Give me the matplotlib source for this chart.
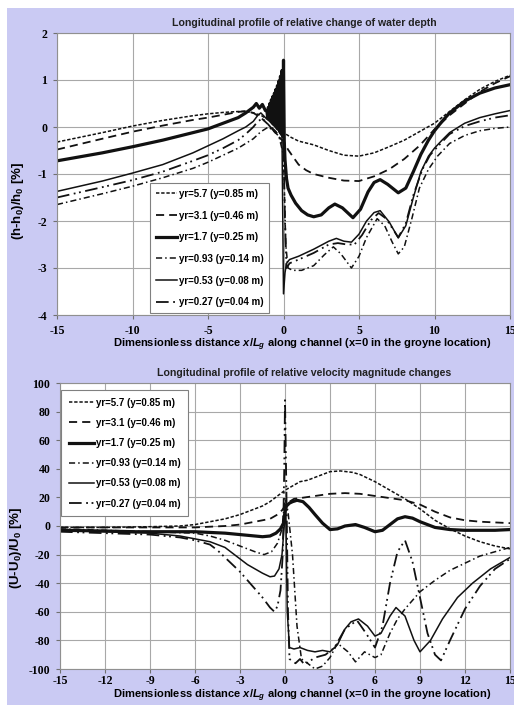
import matplotlib
matplotlib.use("Agg")
import matplotlib.pyplot as plt
from matplotlib.patches import Rectangle

plt.rcParams['font.family'] = ['Liberation Sans', 'DejaVu Sans']
plt.rcParams['mathtext.fontset'] = 'custom'
plt.rcParams['mathtext.rm'] = 'Liberation Sans:bold'
plt.rcParams['mathtext.it'] = 'Liberation Sans:bold:italic'

labels = ['yr=5.7 (y=0.85 m)', 'yr=3.1 (y=0.46 m)', 'yr=1.7 (y=0.25 m)',
          'yr=0.93 (y=0.14 m)', 'yr=0.53 (y=0.08 m)', 'yr=0.27 (y=0.04 m)']

## water depth panel
h57_x = [-15, -12, -10, -8, -6, -5, -4, -3, -2.5, -2, -1.5, -1, -0.5, -0.2, 0, 0.5, 1, 1.5, 2, 3, 4, 5, 6, 7, 8, 9, 10, 11, 12, 13, 14, 15]
h57_y = [-0.32, -0.12, 0.02, 0.14, 0.24, 0.28, 0.31, 0.33, 0.33, 0.3, 0.25, 0.15, 0.05, -0.05, -0.12, -0.22, -0.3, -0.34, -0.38, -0.5, -0.6, -0.62, -0.55, -0.42, -0.28, -0.1, 0.08, 0.33, 0.58, 0.8, 0.97, 1.1]

h31_x = [-15, -12, -10, -8, -6, -5, -4, -3, -2.5, -2, -1.5, -1, -0.5, -0.2, 0, 0.3, 0.6, 1, 1.5, 2, 3, 4, 5, 6, 7, 8, 9, 10, 11, 12, 13, 14, 15]
h31_y = [-0.48, -0.25, -0.1, 0.03, 0.15, 0.2, 0.26, 0.32, 0.34, 0.3, 0.2, 0.05, -0.1, -0.25, -0.3, -0.48, -0.62, -0.8, -0.92, -1.0, -1.08, -1.14, -1.15, -1.05, -0.9, -0.68, -0.4, -0.05, 0.25, 0.5, 0.75, 0.93, 1.08]

h17_x = [-15, -12, -10, -8, -6, -5, -4, -3, -2.5, -2, -1.8, -1.6, -1.4, -1.2,
         -1.1, -1.05, -1.0, -0.95, -0.9, -0.85, -0.8, -0.75, -0.7, -0.65, -0.6, -0.55,
         -0.5, -0.45, -0.4, -0.35, -0.3, -0.25, -0.2, -0.15, -0.1, -0.05, 0.0,
         0.05, 0.1, 0.2, 0.3, 0.5, 0.8, 1.2, 1.6, 2.0, 2.5, 3.0, 3.4, 3.9, 4.6, 5.1, 5.6,
         6.0, 6.4, 6.9, 7.6, 8.1, 8.6, 9.1, 9.6, 10, 10.5, 11, 12, 13, 14, 15]
h17_y = [-0.72, -0.55, -0.42, -0.28, -0.12, -0.04, 0.08, 0.2, 0.3, 0.42, 0.5, 0.4, 0.48, 0.35,
         0.35, 0.2, 0.42, 0.15, 0.5, 0.12, 0.58, 0.08, 0.65, 0.05, 0.72, 0.02,
         0.8, -0.02, 0.88, -0.05, 0.98, -0.1, 1.08, -0.15, 1.2, -0.2, 1.42,
         -0.3, -0.7, -1.1, -1.3, -1.45, -1.62, -1.78, -1.87, -1.91, -1.87, -1.72, -1.64, -1.72, -1.93, -1.75, -1.38,
         -1.18, -1.12, -1.22, -1.4, -1.3, -0.95, -0.58, -0.28, -0.08, 0.12, 0.3, 0.55, 0.72, 0.83, 0.9]

h093_x = [-15, -12, -10, -8, -6, -5, -4, -3, -2.5, -2, -1.5, -1.0, -0.6, -0.3, 0.0, 0.15, 0.3, 0.6, 1.2, 2.0, 2.7, 3.3, 3.8, 4.5, 5.0, 5.5, 6.2, 6.7, 7.2, 7.6, 8.0, 8.5, 9.0, 9.6, 10.2, 11, 12, 13, 14, 15]
h093_y = [-1.65, -1.42, -1.26, -1.08, -0.88, -0.75, -0.6, -0.45, -0.35, -0.25, -0.1, 0.0, -0.1, -0.2, -0.6, -2.5, -3.0, -3.05, -3.05, -2.95, -2.72, -2.55, -2.7, -3.0, -2.75, -2.35, -1.95, -2.1, -2.45, -2.7, -2.55, -1.95, -1.3, -0.9, -0.62, -0.35, -0.18, -0.08, -0.03, 0.0]

h053_x = [-15, -12, -10, -8, -6, -5, -4, -3, -2.5, -2, -1.7, -1.5, -1.2, -0.8, -0.4, -0.1, 0.0, 0.1, 0.2, 0.4, 1.0, 2.0, 3.0, 3.5, 4.0, 4.5, 5.0, 5.5, 6.0, 6.4, 7.0, 7.6, 8.1, 8.6, 9.1, 9.6, 10, 10.5, 11, 12, 13, 14, 15]
h053_y = [-1.37, -1.15, -0.98, -0.8, -0.55, -0.4, -0.25, -0.08, 0.0, 0.12, 0.25, 0.3, 0.2, 0.1, 0.0, -0.2, -3.55, -3.1, -2.9, -2.82, -2.75, -2.6, -2.43, -2.37, -2.43, -2.45, -2.28, -2.0, -1.82, -1.78, -2.02, -2.36, -2.1, -1.5, -0.95, -0.62, -0.45, -0.28, -0.12, 0.08, 0.2, 0.28, 0.35]

h027_x = [-15, -12, -10, -8, -6, -5, -4, -3, -2.5, -2, -1.7, -1.4, -1.0, -0.6, -0.2, 0.0, 0.1, 0.2, 0.4, 1.0, 2.0, 3.0, 3.6, 4.2, 4.7, 5.2, 5.8, 6.3, 6.8, 7.6, 8.1, 8.6, 9.2, 9.7, 10.2, 11, 12, 13, 14, 15]
h027_y = [-1.5, -1.28, -1.13, -0.95, -0.72, -0.6, -0.45, -0.28, -0.15, 0.0, 0.12, 0.18, 0.05, -0.1, -0.25, -0.5, -2.0, -3.0, -2.9, -2.82, -2.68, -2.5, -2.47, -2.5, -2.5, -2.3, -1.98, -1.83, -1.95, -2.35, -2.05, -1.45, -0.9, -0.6, -0.42, -0.15, 0.02, 0.12, 0.2, 0.25]

## velocity panel
u57_x = [-15, -12, -9, -7, -6, -5, -4, -3, -2, -1.5, -1, -0.5, 0, 0.5, 1, 1.5, 2, 2.5, 3, 3.7, 4.5, 5, 6, 7, 8, 9, 10, 11, 12, 13, 14, 15]
u57_y = [-1, -1, -0.5, 0, 1, 3, 5, 8, 12, 14, 17, 21, 25, 28, 31, 32, 34, 36, 38, 38.5, 37.5, 36, 31, 25, 19, 12, 4, -2, -7, -11, -14, -16]

u31_x = [-15, -12, -9, -6, -4, -3, -2, -1, -0.5, -0.2, 0, 0.3, 0.6, 1, 2, 3, 4, 5, 6, 7, 8, 9, 10, 11, 12, 13, 14, 15]
u31_y = [-1, -1, -1, -1, 0, 1, 3, 5, 8, 11, 14, 17, 19, 19.5, 21, 22.5, 23, 22.5, 21, 19.5, 18, 15, 10, 6, 4, 3, 2.5, 2]

u17_x = [-15, -12, -10, -8, -6, -4, -3, -2, -1.5, -1, -0.6, -0.3, -0.1, 0, 0.1, 0.3, 0.5, 0.8, 1.2, 1.6,
         2, 2.5, 3, 3.5, 4, 4.7, 5.3, 6, 6.5, 7, 7.5, 8, 8.5, 9, 10, 11, 12, 13, 14, 15]
u17_y = [-3, -3.5, -4, -4, -4, -5, -6, -7, -7.5, -7, -5, -2, 2, 10, 14, 16, 17, 18, 17, 13,
         8, 2, -2.5, -2, 0, 1, -1, -4, -3, 1, 5, 6.5, 5.5, 3, -1, -2.5, -3, -3, -3, -2.5]

u093_x = [-15, -12, -9, -6, -5, -4, -3, -2, -1.4, -0.9, -0.5, -0.2, 0, 0.2, 0.5, 0.8, 1.1, 1.5, 2, 2.5,
          3, 3.5, 4.2, 4.7, 5.3, 6, 6.4, 7, 7.5, 8, 9, 10, 11, 12, 13, 14, 15]
u093_y = [-2, -3, -4, -5, -7, -10, -14, -18, -20, -18, -12, -2, 20, 10, -20, -70, -93, -96, -100, -98,
          -92, -82, -88, -95, -88, -92, -90, -75, -65, -58, -46, -38, -31, -26, -21, -18, -15]

u053_x = [-15, -12, -9, -7, -6, -5, -4, -3, -2.5, -2, -1.5, -1, -0.7, -0.4, -0.2, -0.05, 0.05, 0.15, 0.3, 0.6,
          1, 1.5, 2, 2.5, 3, 3.5, 4, 4.4, 4.9, 5.5, 6, 6.4, 7, 7.4, 8, 8.6, 9, 9.7, 10.5, 11.5, 12.5, 13.7, 15]
u053_y = [-3, -4, -5, -7, -9, -11, -15, -23, -27, -30, -33, -35.5, -35, -30, -20, 0, 15, -60, -85, -86,
          -85, -87, -88, -87, -88, -83, -72, -67, -65, -70, -77, -75, -63, -57, -63, -80, -88, -80, -65, -50, -40, -30, -22]

u027_x = [-15, -12, -9, -7, -6, -5, -4.5, -4, -3, -2.5, -2, -1.5, -1, -0.7, -0.5, -0.3, -0.15, -0.05, 0, 0.1,
          0.2, 0.3, 0.7, 1.0, 1.3, 2.0, 2.7, 3.3, 4.0, 4.8, 5.4, 6.0, 6.5, 7.0, 7.5, 8.0, 8.5, 9.0, 9.5, 10.0,
          10.4, 11.0, 12.0, 13.0, 14.0, 15.0]
u027_y = [-4, -5, -6, -8, -10, -13, -17, -22, -32, -38, -44, -50, -57, -60, -56, -45, -20, 40, 88, 20,
          -60, -93, -96, -93, -97, -92, -90, -85, -72, -66, -75, -85, -70, -40, -18, -10, -25, -50, -75, -90,
          -94, -80, -58, -42, -30, -23]

styles = [dict(lw=1.1, dashes=(2.2, 1.2)),
          dict(lw=1.3, dashes=(4.5, 2.8)),
          dict(lw=2.3, ls='-'),
          dict(lw=1.1, dashes=(4, 2, 1, 2)),
          dict(lw=1.1, ls='-'),
          dict(lw=1.3, dashes=(7, 2.5, 1, 2, 1, 2.5))]

bg = '#cacaf3'
fig = plt.figure(figsize=(5.14, 7.05), dpi=100)
fig.patches.append(Rectangle((7 / 514, 0), 1, 1 - 8 / 705, transform=fig.transFigure,
                             facecolor=bg, edgecolor='none', zorder=-10))


def setup(ax, xt, yt, xpad):
    ax.set_facecolor('white')
    ax.set_xticks(xt)
    ax.set_yticks(yt)
    ax.set_xlim(xt[0], xt[-1])
    ax.set_ylim(yt[0], yt[-1])
    ax.set_xticklabels([str(v) for v in xt])
    ax.set_yticklabels([str(v) for v in yt])
    ax.grid(True, color='#a8a8a8', lw=0.8)
    ax.set_axisbelow(True)
    for s in ax.spines.values():
        s.set_color('#909090')
        s.set_linewidth(0.8)
    ax.tick_params(direction='out', length=3, color='#707070', pad=4)
    ax.tick_params(axis='x', pad=xpad)
    for t in ax.get_xticklabels() + ax.get_yticklabels():
        t.set_fontfamily('Liberation Serif')
        t.set_fontweight('bold')
        t.set_fontsize(8.5)


def draw(ax, series):
    for (xs, ys), lab, st in zip(series, labels, styles):
        ax.plot(xs, ys, color='#111111', label=lab, **st)


ax1 = fig.add_axes([57 / 514, 1 - 315 / 705, 453 / 514, 282 / 705])
draw(ax1, [(h57_x, h57_y), (h31_x, h31_y), (h17_x, h17_y),
           (h093_x, h093_y), (h053_x, h053_y), (h027_x, h027_y)])
setup(ax1, [-15, -10, -5, 0, 5, 10, 15], [-4, -3, -2, -1, 0, 1, 2], 4)
leg1 = ax1.legend(loc='lower left', bbox_to_anchor=(0.205, 0.007), borderaxespad=0,
                  prop=dict(weight='bold', size=7.0), handlelength=2.2, handletextpad=0.15,
                  labelspacing=1.2, borderpad=0.6, fancybox=False, framealpha=1,
                  edgecolor='#808080')
leg1.get_frame().set_linewidth(0.8)

ax2 = fig.add_axes([60 / 514, 1 - 669 / 705, 450 / 514, 286 / 705])
draw(ax2, [(u57_x, u57_y), (u31_x, u31_y), (u17_x, u17_y),
           (u093_x, u093_y), (u053_x, u053_y), (u027_x, u027_y)])
setup(ax2, [-15, -12, -9, -6, -3, 0, 3, 6, 9, 12, 15],
      [-100, -80, -60, -40, -20, 0, 20, 40, 60, 80, 100], 1.5)
leg2 = ax2.legend(loc='upper left', bbox_to_anchor=(0.003, 0.976), borderaxespad=0,
                  prop=dict(weight='bold', size=7.0), handlelength=2.6, handletextpad=0.15,
                  labelspacing=1.05, borderpad=0.8, fancybox=False, framealpha=1,
                  edgecolor='#808080')
leg2.get_frame().set_linewidth(0.8)

# titles and labels
fig.text(304 / 514, 1 - 23 / 705, 'Longitudinal profile of relative change of water depth',
         ha='center', va='center', fontsize=7.6, fontweight='bold', color='#222222')
fig.text(304 / 514, 1 - 373 / 705, 'Longitudinal profile of relative velocity magnitude changes',
         ha='center', va='center', fontsize=7.6, fontweight='bold', color='#222222')
xlab = 'Dimensionless distance $x/L_g$ along channel (x=0 in the groyne location)'
fig.text(302 / 514, 1 - 345 / 705, xlab, ha='center', va='center', fontsize=8.0, fontweight='bold')
fig.text(302 / 514, 1 - 696 / 705, xlab, ha='center', va='center', fontsize=8.0, fontweight='bold')
fig.text(18 / 514, 1 - 201 / 705, r'(h-h$\mathregular{_0}$)/h$\mathregular{_0}$ [%]', rotation=90,
         ha='center', va='center', fontsize=9.5, fontweight='bold')
fig.text(16 / 514, 1 - 548 / 705, r'(U-U$\mathregular{_0}$)/U$\mathregular{_0}$ [%]', rotation=90,
         ha='center', va='center', fontsize=9.5, fontweight='bold')

fig.savefig('out.png', dpi=100, facecolor='white')
